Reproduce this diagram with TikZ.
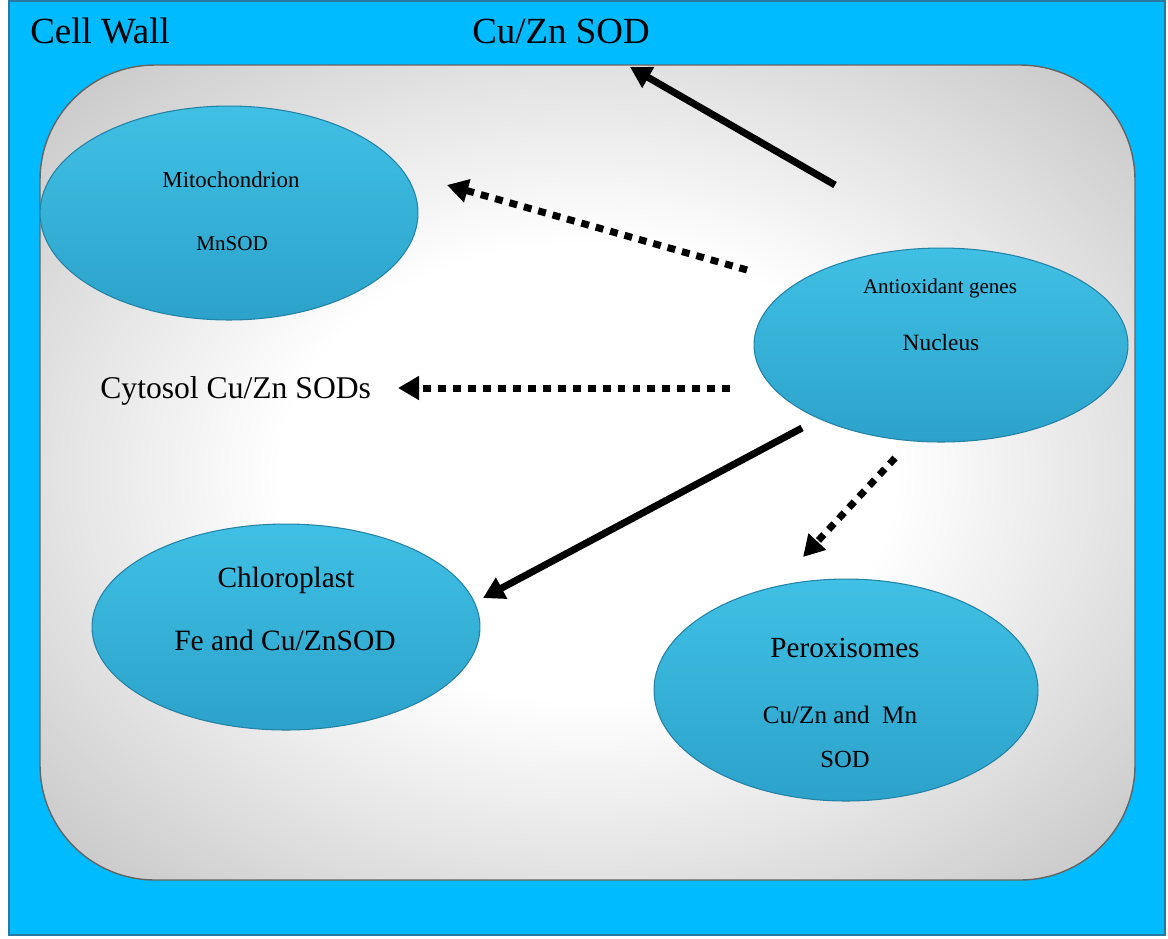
\documentclass[tikz,border=0pt]{standalone}
\usepackage{fontspec}
\setmainfont{Liberation Serif}
\usetikzlibrary{arrows.meta, shapes.geometric}

\definecolor{wallblue}{RGB}{0,187,255}
\definecolor{wallline}{RGB}{40,120,160}
\definecolor{cytoline}{RGB}{100,100,100}
\definecolor{orgtop}{RGB}{64,192,228}
\definecolor{orgbot}{RGB}{44,162,202}
\definecolor{orgline}{RGB}{35,130,165}
\pgfdeclareradialshading{cytoshade}{\pgfpoint{0bp}{0bp}}{%
    color(0bp)=(white); color(14bp)=(white); color(44bp)=(black!32); color(100bp)=(black!34)}

\begin{document}
\begin{tikzpicture}[x=0.02cm, y=-0.02cm,
    organelle/.style={ellipse, draw=orgline, line width=0.6pt, top color=orgtop, bottom color=orgbot, inner sep=0pt},
    txt/.style={anchor=base, inner sep=0pt},
    big/.style={txt, font=\fontsize{21}{25}\selectfont},
    solidarrow/.style={line width=4pt, -{Triangle[length=12pt, width=13pt]}},
    dotarrow/.style={solidarrow, dash pattern=on 4.5pt off 4pt}
]
\useasboundingbox (0,0) rectangle (1168,938);
% cell wall and cytosol
\draw[fill=wallblue, draw=wallline, line width=0.8pt] (9,1) rectangle (1165,935);
\draw[shading=cytoshade, draw=cytoline, line width=0.8pt, rounded corners=2.3cm] (40,65) rectangle (1135,880);

\node[big, anchor=base west] (wall) at (30,43) {Cell Wall};
\node[big, anchor=base west] (cuzn) at (472,43) {Cu/Zn SOD};
\node[txt, anchor=base west, font=\fontsize{18}{22}\selectfont] (cytosol) at (100,398) {Cytosol Cu/Zn SODs};

% organelles
\node[organelle, minimum width=7.56cm, minimum height=4.28cm] (mito) at (229,213) {};
\node[organelle, minimum width=7.48cm, minimum height=3.88cm] (nuc) at (941,345) {};
\node[organelle, minimum width=7.76cm, minimum height=4.12cm] (chloro) at (286,627) {};
\node[organelle, minimum width=7.68cm, minimum height=4.44cm] (perox) at (846,690) {};

\node[txt, font=\fontsize{13}{15}\selectfont] (mitoname) at (231,187) {Mitochondrion};
\node[txt, font=\fontsize{12}{14}\selectfont] (mitosod) at (232,250) {MnSOD};
\node[txt, font=\fontsize{12}{14}\selectfont] (nucgenes) at (940,293) {Antioxidant genes};
\node[txt, font=\fontsize{13.3}{15}\selectfont] (nucname) at (941,350) {Nucleus};
\node[txt, font=\fontsize{16.7}{19}\selectfont] (chloroname) at (286,587) {Chloroplast};
\node[txt, font=\fontsize{16.8}{19}\selectfont] (chlorosod) at (285,650) {Fe and Cu/ZnSOD};
\node[txt, font=\fontsize{16.6}{19}\selectfont] (peroxname) at (845,657) {Peroxisomes};
\node[txt, font=\fontsize{14.3}{17}\selectfont] (peroxsod) at (840,723) {Cu/Zn and\ \ Mn};
\node[txt, font=\fontsize{14}{17}\selectfont] (peroxsodb) at (845,767) {SOD};

% arrow ends
\coordinate (n1) at (835,185);
\coordinate (n2) at (747,270);
\coordinate (n3) at (730,388);
\coordinate (n4) at (802,428);
\coordinate (n5) at (895,458);
\coordinate (t1) at (630,67);
\coordinate (t2) at (447,185);
\coordinate (t3) at (398,388);
\coordinate (t4) at (483,598);
\coordinate (t5) at (803,557);

\draw[solidarrow] (n1) -- (t1);
\draw[dotarrow] (n2) -- (t2);
\draw[dotarrow] (n3) -- (t3);
\draw[solidarrow] (n4) -- (t4);
\draw[dotarrow] (n5) -- (t5);
\end{tikzpicture}
\end{document}
